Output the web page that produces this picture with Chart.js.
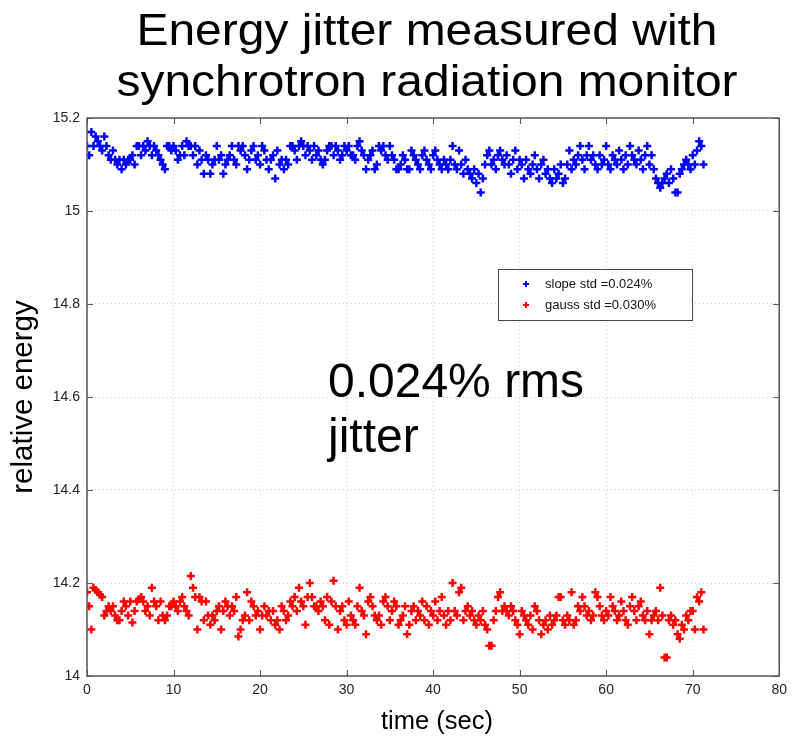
<!DOCTYPE html>
<html>
<head>
<meta charset="utf-8">
<title>Energy jitter</title>
<script src="https://cdn.jsdelivr.net/npm/chart.js@4.4.1/dist/chart.umd.min.js"></script>
<style>
  html, body { margin: 0; padding: 0; background: #fff; }
  #wrap { width: 793px; height: 744px; }
</style>
</head>
<body>
<div id="wrap"><canvas id="jitterChart" width="793" height="744"></canvas></div>
<script>
// samples every 0.25 s
const SAMPLE_PERIOD = 0.25;

const slopeEnergy = [
    15.14, 15.12, 15.17, 15.14, 15.16, 15.15, 15.14, 15.13, 15.16, 15.14, 15.12, 15.11, 15.13, 15.11, 15.10, 15.11, 15.09, 15.11, 15.10, 15.11,
    15.11, 15.12, 15.10, 15.14, 15.14, 15.12, 15.14, 15.13, 15.15, 15.14, 15.12, 15.14, 15.13, 15.12, 15.11, 15.10, 15.09, 15.14, 15.14, 15.13,
    15.14, 15.13, 15.11, 15.12, 15.14, 15.12, 15.15, 15.14, 15.14, 15.12, 15.14, 15.10, 15.13, 15.11, 15.08, 15.12, 15.11, 15.08, 15.10, 15.11,
    15.14, 15.11, 15.12, 15.08, 15.10, 15.11, 15.12, 15.14, 15.11, 15.10, 15.14, 15.13, 15.14, 15.12, 15.09, 15.11, 15.13, 15.14, 15.11, 15.12,
    15.10, 15.14, 15.13, 15.11, 15.09, 15.11, 15.12, 15.07, 15.13, 15.10, 15.11, 15.09, 15.11, 15.10, 15.14, 15.14, 15.13, 15.11, 15.14, 15.15,
    15.14, 15.12, 15.14, 15.13, 15.11, 15.14, 15.12, 15.13, 15.11, 15.10, 15.11, 15.13, 15.14, 15.14, 15.12, 15.14, 15.13, 15.11, 15.12, 15.14,
    15.13, 15.14, 15.12, 15.12, 15.11, 15.14, 15.15, 15.13, 15.12, 15.09, 15.11, 15.12, 15.13, 15.09, 15.10, 15.14, 15.13, 15.14, 15.12, 15.11,
    15.14, 15.12, 15.11, 15.09, 15.09, 15.10, 15.12, 15.11, 15.09, 15.09, 15.13, 15.12, 15.11, 15.10, 15.09, 15.12, 15.13, 15.11, 15.10, 15.09,
    15.12, 15.13, 15.11, 15.10, 15.09, 15.11, 15.10, 15.09, 15.11, 15.14, 15.10, 15.09, 15.13, 15.10, 15.08, 15.11, 15.09, 15.08, 15.07, 15.09,
    15.06, 15.08, 15.04, 15.07, 15.10, 15.12, 15.13, 15.10, 15.11, 15.09, 15.12, 15.13, 15.11, 15.10, 15.12, 15.10, 15.08, 15.11, 15.13, 15.09,
    15.11, 15.10, 15.07, 15.11, 15.09, 15.08, 15.10, 15.12, 15.09, 15.07, 15.10, 15.11, 15.08, 15.09, 15.07, 15.06, 15.09, 15.07, 15.08, 15.10,
    15.06, 15.07, 15.10, 15.13, 15.09, 15.11, 15.10, 15.12, 15.14, 15.11, 15.09, 15.12, 15.14, 15.11, 15.12, 15.10, 15.09, 15.12, 15.10, 15.11,
    15.14, 15.10, 15.09, 15.12, 15.11, 15.10, 15.13, 15.11, 15.09, 15.12, 15.10, 15.14, 15.12, 15.11, 15.10, 15.13, 15.11, 15.09, 15.12, 15.14,
    15.10, 15.12, 15.09, 15.07, 15.06, 15.05, 15.06, 15.07, 15.08, 15.06, 15.09, 15.07, 15.04, 15.04, 15.08, 15.09, 15.10, 15.11, 15.10, 15.09,
    15.12, 15.10, 15.13, 15.15, 15.14, 15.10
];

const gaussEnergy = [
    14.18, 14.15, 14.10, 14.19, 14.185, 14.18, 14.175, 14.17, 14.13, 14.14, 14.15, 14.14, 14.15, 14.13, 14.12, 14.12, 14.14, 14.16, 14.15, 14.13,
    14.16, 14.115, 14.14, 14.16, 14.165, 14.17, 14.16, 14.14, 14.15, 14.13, 14.19, 14.16, 14.15, 14.12, 14.16, 14.13, 14.12, 14.13, 14.15, 14.15,
    14.16, 14.15, 14.14, 14.16, 14.17, 14.15, 14.14, 14.13, 14.215, 14.19, 14.17, 14.10, 14.17, 14.16, 14.12, 14.16, 14.13, 14.11, 14.13, 14.12,
    14.14, 14.15, 14.10, 14.14, 14.16, 14.15, 14.13, 14.15, 14.14, 14.17, 14.085, 14.10, 14.12, 14.13, 14.18, 14.12, 14.16, 14.15, 14.13, 14.14,
    14.10, 14.13, 14.15, 14.13, 14.14, 14.12, 14.14, 14.11, 14.12, 14.10, 14.15, 14.14, 14.12, 14.13, 14.16, 14.15, 14.17, 14.14, 14.19, 14.16,
    14.15, 14.11, 14.17, 14.20, 14.17, 14.15, 14.15, 14.14, 14.16, 14.15, 14.12, 14.17, 14.11, 14.16, 14.205, 14.15, 14.10, 14.14, 14.15, 14.12,
    14.11, 14.16, 14.13, 14.12, 14.11, 14.15, 14.19, 14.14, 14.13, 14.09, 14.16, 14.17, 14.15, 14.13, 14.12, 14.13, 14.11, 14.16, 14.17, 14.15,
    14.12, 14.14, 14.16, 14.15, 14.11, 14.12, 14.13, 14.15, 14.09, 14.11, 14.14, 14.15, 14.12, 14.14, 14.13, 14.16, 14.12, 14.15, 14.11, 14.14,
    14.13, 14.16, 14.12, 14.14, 14.17, 14.13, 14.11, 14.14, 14.12, 14.20, 14.14, 14.13, 14.18, 14.19, 14.12, 14.14, 14.15, 14.13, 14.14, 14.12,
    14.11, 14.13, 14.12, 14.14, 14.11, 14.10, 14.065, 14.065, 14.12, 14.14, 14.17, 14.18, 14.14, 14.15, 14.14, 14.13, 14.15, 14.14, 14.12, 14.11,
    14.09, 14.14, 14.13, 14.12, 14.11, 14.13, 14.10, 14.15, 14.14, 14.12, 14.09, 14.11, 14.12, 14.10, 14.13, 14.11, 14.12, 14.13, 14.17, 14.17,
    14.12, 14.11, 14.13, 14.12, 14.18, 14.11, 14.12, 14.15, 14.14, 14.17, 14.15, 14.13, 14.14, 14.12, 14.13, 14.18, 14.17, 14.15, 14.13, 14.12,
    14.14, 14.13, 14.17, 14.15, 14.14, 14.12, 14.13, 14.16, 14.14, 14.12, 14.11, 14.15, 14.17, 14.14, 14.12, 14.15, 14.16, 14.13, 14.12, 14.14,
    14.09, 14.12, 14.13, 14.14, 14.12, 14.19, 14.13, 14.04, 14.04, 14.12, 14.13, 14.11, 14.12, 14.09, 14.08, 14.11, 14.10, 14.13, 14.12, 14.14,
    14.14, 14.10, 14.17, 14.16, 14.18, 14.10
];

const seriesLabels = ['slope std =0.024%', 'gauss std =0.030%'];
const seriesColors = ['#0000ff', '#ff0000'];

const titleLines = ['Energy jitter measured with', 'synchrotron radiation monitor'];
const noteLines = ['0.024% rms', 'jitter'];
const xTitle = 'time (sec)';
const yTitle = 'relative energy';

const xTicks = [0, 10, 20, 30, 40, 50, 60, 70, 80];
const yTicks = [14, 14.2, 14.4, 14.6, 14.8, 15, 15.2];

const FONT = '"Liberation Sans", Arial, Helvetica, sans-serif';

function toPoints(values) {
    return values.map((v, i) => ({ x: i * SAMPLE_PERIOD, y: v }));
}

// slightly widened heading text
function wideText(ctx, text, cx, y, stretch) {
    ctx.save();
    ctx.translate(cx, y);
    ctx.scale(stretch, 1);
    ctx.fillText(text, 0, 0);
    ctx.restore();
}

// box, inner tick marks, titles, note and legend drawn on top of the plot
const decorations = {
    id: 'decorations',
    afterDraw(chart) {
        const ctx = chart.ctx;
        const a = chart.chartArea;
        const xs = chart.scales.x;
        const ys = chart.scales.y;
        ctx.save();

        ctx.strokeStyle = '#555';
        ctx.lineWidth = 1;
        ctx.beginPath();
        xTicks.forEach(t => {
            const px = Math.round(xs.getPixelForValue(t)) + 0.5;
            ctx.moveTo(px, a.bottom); ctx.lineTo(px, a.bottom - 6);
            ctx.moveTo(px, a.top); ctx.lineTo(px, a.top + 6);
        });
        yTicks.forEach(t => {
            const py = Math.round(ys.getPixelForValue(t)) + 0.5;
            ctx.moveTo(a.left, py); ctx.lineTo(a.left + 6, py);
            ctx.moveTo(a.right, py); ctx.lineTo(a.right - 6, py);
        });
        ctx.stroke();
        ctx.lineWidth = 1.5;
        ctx.strokeRect(a.left, a.top, a.right - a.left, a.bottom - a.top);

        ctx.fillStyle = '#000';
        ctx.textAlign = 'center';
        ctx.textBaseline = 'alphabetic';
        ctx.font = '44px ' + FONT;
        wideText(ctx, titleLines[0], 427, 45, 1.09);
        wideText(ctx, titleLines[1], 427, 96, 1.09);

        ctx.font = '48px ' + FONT;
        ctx.textAlign = 'left';
        ctx.fillText(noteLines[0], 328, 397);
        ctx.fillText(noteLines[1], 328, 452);

        ctx.textAlign = 'center';
        ctx.font = '25.5px ' + FONT;
        ctx.fillText(xTitle, 437, 729);
        ctx.save();
        ctx.translate(32, 397);
        ctx.rotate(-Math.PI / 2);
        ctx.font = '29.5px ' + FONT;
        ctx.fillText(yTitle, 0, 0);
        ctx.restore();

        // legend
        const lx = 498, ly = 269, lw = 194, lh = 51;
        ctx.fillStyle = '#fff';
        ctx.fillRect(lx, ly, lw, lh);
        ctx.strokeStyle = '#444';
        ctx.lineWidth = 1;
        ctx.strokeRect(lx + 0.5, ly + 0.5, lw, lh);
        ctx.font = '13px ' + FONT;
        ctx.textAlign = 'left';
        ctx.textBaseline = 'middle';
        seriesLabels.forEach((label, i) => {
            const cy = ly + 15 + i * 21;
            ctx.strokeStyle = seriesColors[i];
            ctx.lineWidth = 2;
            ctx.beginPath();
            ctx.moveTo(523, cy); ctx.lineTo(529, cy);
            ctx.moveTo(526, cy - 3); ctx.lineTo(526, cy + 3);
            ctx.stroke();
            ctx.fillStyle = '#111';
            ctx.fillText(label, 545, cy);
        });
        ctx.restore();
    }
};

function tickText(value) {
    return String(Number(value.toFixed(1)));
}

const ctx = document.getElementById('jitterChart').getContext('2d');
new Chart(ctx, {
    type: 'scatter',
    plugins: [decorations],
    data: {
        datasets: [
            {
                label: seriesLabels[0],
                data: toPoints(slopeEnergy),
                pointStyle: 'cross',
                radius: 4,
                borderWidth: 2.5,
                borderColor: seriesColors[0],
                backgroundColor: seriesColors[0]
            },
            {
                label: seriesLabels[1],
                data: toPoints(gaussEnergy),
                pointStyle: 'cross',
                radius: 4,
                borderWidth: 2.5,
                borderColor: seriesColors[1],
                backgroundColor: seriesColors[1]
            }
        ]
    },
    options: {
        responsive: false,
        devicePixelRatio: 1,
        animation: false,
        layout: { padding: { top: 118, right: 9, left: 0, bottom: 0 } },
        scales: {
            x: {
                type: 'linear',
                min: 0,
                max: 80,
                afterFit(scale) { scale.height = 68; },
                afterBuildTicks(scale) { scale.ticks = xTicks.map(v => ({ value: v })); },
                ticks: { color: '#222', padding: 6, font: { family: FONT, size: 14 }, callback: tickText },
                grid: { color: '#cfcfcf', lineWidth: 1, drawTicks: false },
                border: { display: false, dash: [1, 3] }
            },
            y: {
                type: 'linear',
                min: 14,
                max: 15.2,
                afterFit(scale) { scale.width = 87; },
                afterBuildTicks(scale) { scale.ticks = yTicks.map(v => ({ value: v })); },
                ticks: { color: '#222', padding: 7, font: { family: FONT, size: 14 }, callback: tickText },
                grid: { color: '#cfcfcf', lineWidth: 1, drawTicks: false },
                border: { display: false, dash: [1, 3] }
            }
        },
        plugins: {
            legend: { display: false },
            title: { display: false },
            tooltip: { enabled: false }
        }
    }
});
</script>
</body>
</html>
